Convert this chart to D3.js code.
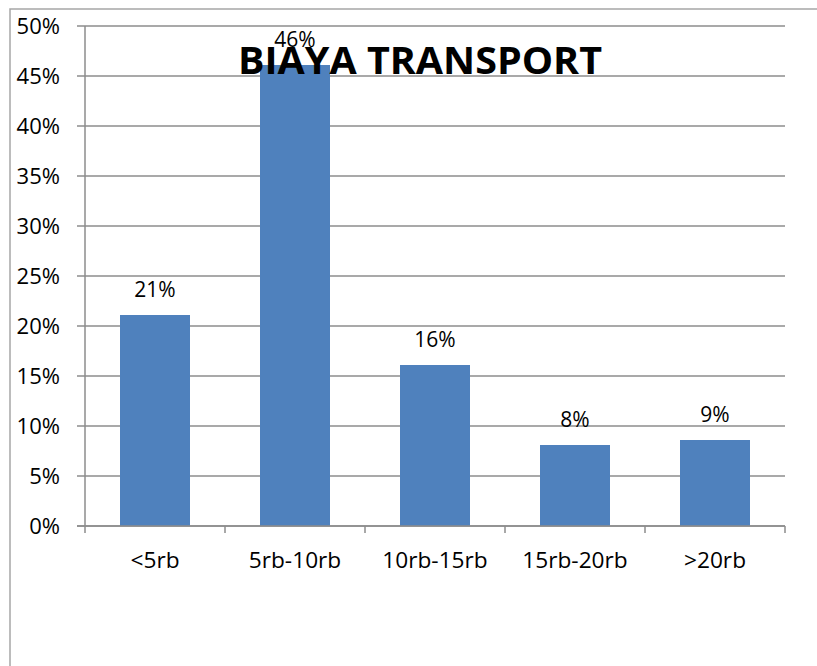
<!DOCTYPE html>
<html><head><meta charset="utf-8">
<script src="https://cdn.jsdelivr.net/npm/d3@7"></script>
<style>body{margin:0;background:#fff}svg{display:block}</style>
</head><body>
<script>
const categories = ["<5rb", "5rb-10rb", "10rb-15rb", "15rb-20rb", ">20rb"];
const values = [21.1, 46.1, 16.1, 8.1, 8.6];
const valueLabels = ["21%", "46%", "16%", "8%", "9%"];
const yTicks = [0, 5, 10, 15, 20, 25, 30, 35, 40, 45, 50];
const title = "BIAYA TRANSPORT";

const W = 817, H = 666;
const font = "'Open Sans', 'Liberation Sans', sans-serif";
const svg = d3.select("body").append("svg").attr("width", W).attr("height", H);
svg.append("rect").attr("x", 10).attr("y", 9).attr("width", W).attr("height", H)
  .attr("fill", "#fff").attr("stroke", "#a6a6a6").attr("stroke-width", 1.5);

const x = d3.scaleBand().domain(categories).range([85, 785]).paddingInner(0.5).paddingOuter(0.25);
const y = d3.scaleLinear().domain([0, 50]).range([526, 26]);

// gridlines
svg.append("g").selectAll("line").data(yTicks).join("line")
  .attr("x1", 77).attr("x2", 785).attr("y1", d => y(d)).attr("y2", d => y(d))
  .attr("stroke", "#8c8c8c").attr("stroke-width", 1.5);
// y tick labels
svg.append("g").selectAll("text").data(yTicks).join("text")
  .attr("x", 60).attr("y", d => y(d)).attr("dy", "0.36em").attr("text-anchor", "end")
  .attr("font-family", font).attr("font-size", 21).attr("fill", "#000").text(d => d + "%")
  .each(function() {
    const w = this.getComputedTextLength();
    d3.select(this).attr("textLength", w * 1.05).attr("lengthAdjust", "spacingAndGlyphs");
  });
// y axis line
svg.append("line").attr("x1", 85).attr("x2", 85).attr("y1", 26).attr("y2", 526)
  .attr("stroke", "#8c8c8c").attr("stroke-width", 1.5);
// x ticks
const bounds = d3.range(categories.length + 1).map(i => 85 + i * x.step());
svg.append("g").selectAll("line").data(bounds).join("line")
  .attr("x1", d => d).attr("x2", d => d).attr("y1", 526).attr("y2", 533)
  .attr("stroke", "#8c8c8c").attr("stroke-width", 1.5);

// bars
svg.append("g").selectAll("rect").data(values).join("rect")
  .attr("x", (d, i) => x(categories[i])).attr("width", x.bandwidth())
  .attr("y", d => y(d)).attr("height", d => y(0) - y(d)).attr("fill", "#4f81bd");

// x axis line
svg.append("line").attr("x1", 77).attr("x2", 785).attr("y1", 526).attr("y2", 526)
  .attr("stroke", "#8c8c8c").attr("stroke-width", 1.5);

// category labels (slightly widened)
svg.append("g").selectAll("text").data(categories).join("text")
  .attr("x", d => x(d) + x.bandwidth() / 2).attr("y", 568).attr("text-anchor", "middle")
  .attr("font-family", font).attr("font-size", 21).attr("fill", "#000").text(d => d)
  .each(function() {
    const w = this.getComputedTextLength();
    d3.select(this).attr("textLength", w * 1.08).attr("lengthAdjust", "spacingAndGlyphs");
  });

// value labels
svg.append("g").selectAll("text").data(values).join("text")
  .attr("x", (d, i) => x(categories[i]) + x.bandwidth() / 2).attr("y", d => y(d) - 18)
  .attr("text-anchor", "middle").attr("font-family", font).attr("font-size", 21).attr("fill", "#000")
  .text((d, i) => valueLabels[i]);

// title
svg.append("text").attr("x", 420).attr("y", 74).attr("text-anchor", "middle")
  .attr("font-family", font).attr("font-weight", "bold").attr("font-size", 37).attr("fill", "#000")
  .attr("textLength", 364).attr("lengthAdjust", "spacingAndGlyphs")
  .text(title);
</script>
</body></html>
